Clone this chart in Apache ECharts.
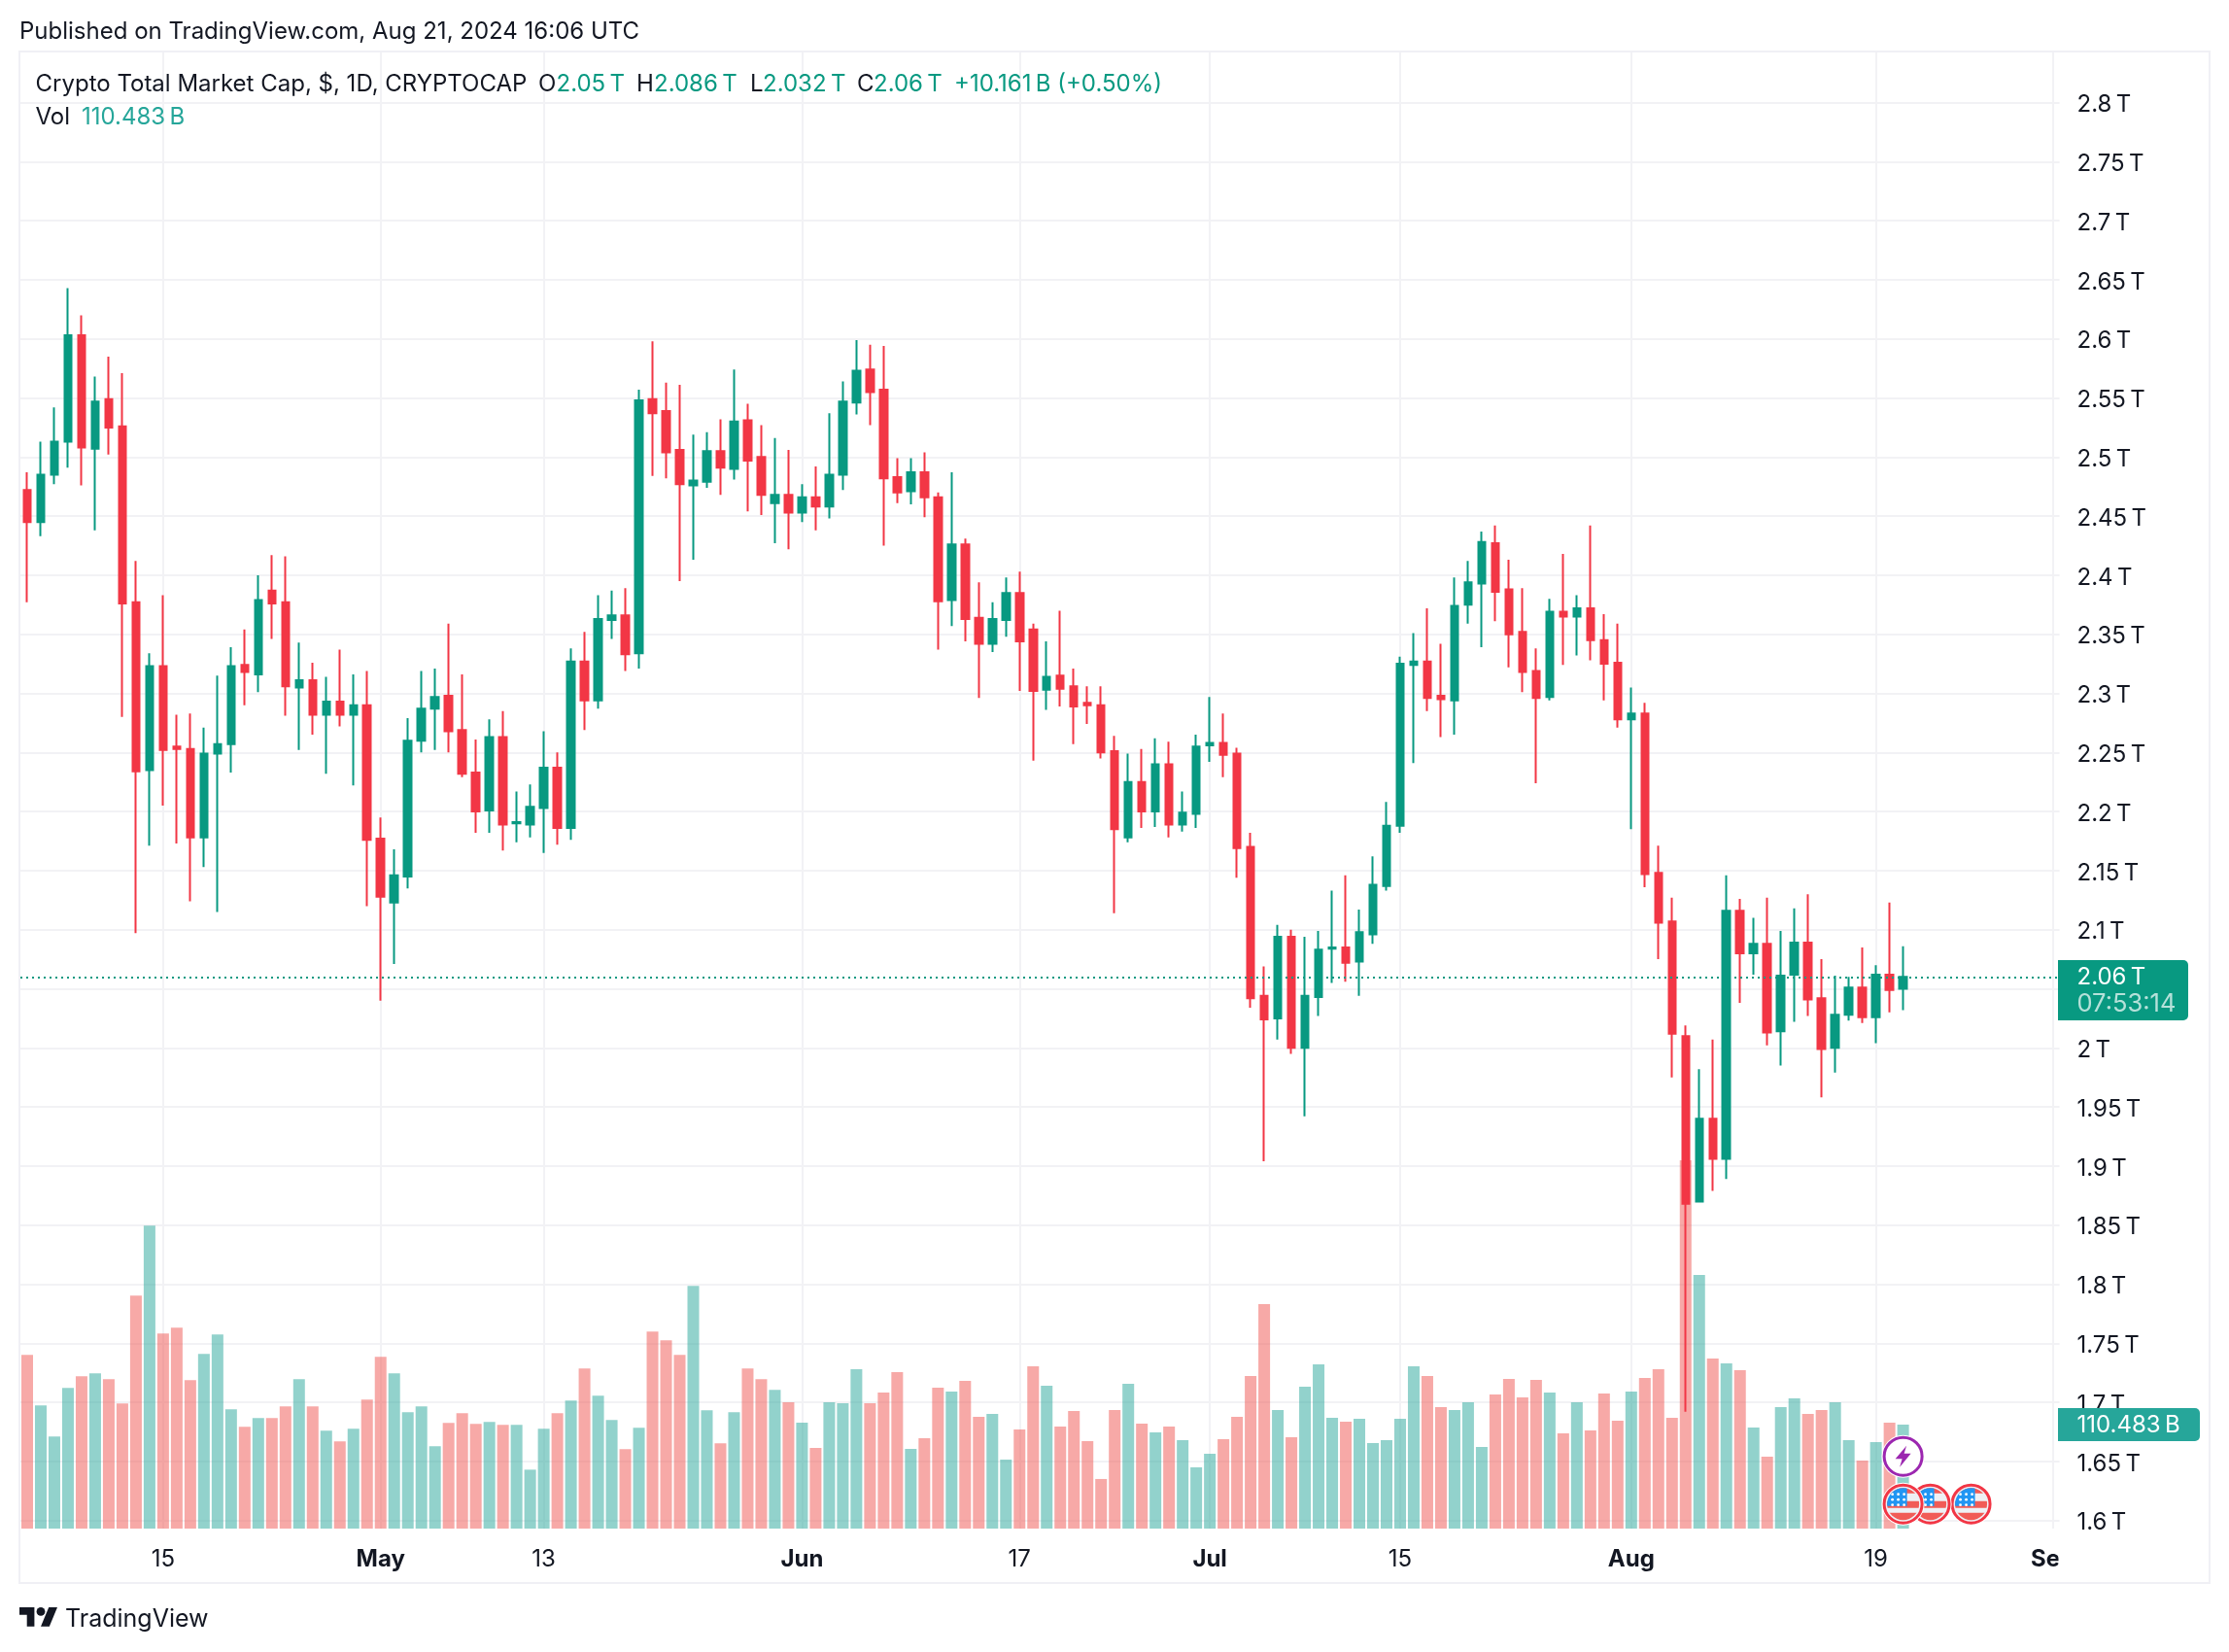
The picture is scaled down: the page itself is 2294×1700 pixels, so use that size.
<!DOCTYPE html>
<html>
<head>
<meta charset="utf-8">
<script src="https://cdn.jsdelivr.net/npm/echarts@6/dist/echarts.min.js"></script>
<style>html,body{margin:0;padding:0;background:#fff}#c{width:2294px;height:1700px}</style>
</head>
<body>
<div id="c"></div>
<script>
// ---- data (trillions USD, daily from 2024-04-05) ----
const firstDay = '2024-04-05';
const slotCount = 150; // Apr 5 .. Sep 1
const opens = [2.472,2.445,2.485,2.513,2.603,2.507,2.549,2.526,2.377,2.235,
2.323,2.255,2.253,2.178,2.249,2.257,2.324,2.316,2.387,2.377,
2.305,2.311,2.282,2.293,2.282,2.290,2.177,2.123,2.145,2.260,
2.287,2.298,2.269,2.233,2.201,2.263,2.190,2.189,2.203,2.237,
2.186,2.327,2.294,2.362,2.366,2.334,2.549,2.539,2.506,2.476,
2.479,2.505,2.490,2.531,2.500,2.461,2.468,2.453,2.466,2.458,
2.485,2.546,2.574,2.557,2.483,2.471,2.487,2.466,2.379,2.426,
2.364,2.342,2.362,2.385,2.354,2.303,2.315,2.306,2.292,2.290,
2.251,2.178,2.225,2.200,2.240,2.189,2.198,2.256,2.258,2.249,
2.170,2.044,2.025,2.094,2.000,2.043,2.084,2.085,2.073,2.096,
2.137,2.188,2.324,2.327,2.298,2.294,2.375,2.393,2.427,2.388,
2.352,2.319,2.297,2.369,2.365,2.372,2.345,2.326,2.278,2.283,
2.148,2.107,2.010,1.870,1.940,1.906,2.116,2.080,2.088,2.014,
2.062,2.089,2.042,2.000,2.028,2.051,2.026,2.062,2.050];
const closes = [2.445,2.485,2.513,2.603,2.508,2.547,2.525,2.376,2.234,2.323,
2.252,2.253,2.178,2.249,2.257,2.323,2.318,2.379,2.376,2.306,
2.311,2.282,2.293,2.282,2.290,2.176,2.128,2.146,2.260,2.287,
2.297,2.268,2.232,2.200,2.263,2.189,2.191,2.204,2.237,2.186,
2.327,2.294,2.363,2.366,2.333,2.548,2.537,2.504,2.477,2.480,
2.505,2.491,2.530,2.497,2.468,2.468,2.453,2.466,2.458,2.485,
2.547,2.573,2.555,2.482,2.470,2.487,2.466,2.378,2.426,2.363,
2.342,2.363,2.385,2.344,2.302,2.314,2.304,2.289,2.290,2.250,
2.185,2.225,2.200,2.240,2.189,2.199,2.255,2.258,2.248,2.169,
2.042,2.024,2.094,2.000,2.044,2.083,2.085,2.072,2.098,2.138,
2.188,2.325,2.327,2.296,2.295,2.374,2.394,2.428,2.386,2.350,
2.318,2.296,2.369,2.365,2.372,2.345,2.325,2.278,2.283,2.147,
2.106,2.012,1.868,1.940,1.906,2.116,2.080,2.088,2.013,2.061,
2.089,2.041,1.999,2.028,2.051,2.026,2.062,2.049,2.060];
const highs = [2.487,2.513,2.542,2.643,2.620,2.568,2.585,2.571,2.412,2.334,
2.383,2.282,2.283,2.271,2.315,2.339,2.354,2.400,2.417,2.416,
2.343,2.326,2.314,2.337,2.316,2.319,2.195,2.168,2.279,2.319,
2.321,2.359,2.316,2.261,2.278,2.285,2.217,2.223,2.268,2.250,
2.338,2.352,2.383,2.387,2.389,2.557,2.598,2.563,2.561,2.519,
2.521,2.532,2.574,2.545,2.527,2.516,2.506,2.477,2.492,2.537,
2.564,2.599,2.595,2.594,2.499,2.499,2.504,2.470,2.487,2.431,
2.394,2.377,2.398,2.403,2.359,2.344,2.370,2.321,2.306,2.306,
2.264,2.249,2.253,2.262,2.259,2.217,2.265,2.297,2.283,2.254,
2.182,2.069,2.104,2.100,2.094,2.099,2.133,2.146,2.117,2.162,
2.208,2.331,2.351,2.372,2.342,2.398,2.412,2.437,2.442,2.413,
2.389,2.338,2.380,2.418,2.383,2.442,2.367,2.359,2.305,2.292,
2.171,2.127,2.019,1.982,2.007,2.146,2.126,2.110,2.127,2.099,
2.118,2.130,2.075,2.061,2.060,2.085,2.070,2.123,2.086];
const lows = [2.377,2.433,2.477,2.491,2.476,2.438,2.502,2.280,2.097,2.171,
2.205,2.173,2.124,2.153,2.115,2.233,2.290,2.301,2.346,2.281,
2.252,2.265,2.232,2.272,2.222,2.120,2.040,2.071,2.135,2.250,
2.252,2.250,2.229,2.182,2.182,2.167,2.174,2.178,2.165,2.172,
2.176,2.269,2.287,2.346,2.319,2.321,2.484,2.482,2.395,2.413,
2.474,2.468,2.481,2.454,2.451,2.427,2.422,2.445,2.438,2.448,
2.472,2.536,2.527,2.425,2.461,2.460,2.449,2.337,2.357,2.344,
2.296,2.335,2.348,2.302,2.243,2.286,2.289,2.257,2.274,2.245,
2.114,2.174,2.186,2.187,2.178,2.183,2.186,2.242,2.229,2.144,
2.034,1.904,2.007,1.995,1.942,2.027,2.055,2.056,2.044,2.088,
2.133,2.182,2.241,2.285,2.263,2.265,2.359,2.339,2.361,2.322,
2.301,2.224,2.294,2.324,2.332,2.328,2.294,2.271,2.185,2.136,
2.075,1.975,1.692,1.869,1.879,1.889,2.038,2.062,2.002,1.985,
2.022,2.027,1.958,1.979,2.023,2.021,2.004,2.030,2.032];
// volume, billions USD
const volumes = [184.5,130.8,97.8,149.4,161.8,164.9,158.7,132.9,247.5,321.8,
207.2,213.4,157.6,185.5,206.2,126.7,108.1,117.4,117.4,129.8,
158.7,129.8,103.9,92.6,106.0,137.0,182.4,164.9,123.6,129.8,
87.4,112.2,122.5,111.2,113.2,110.1,110.1,62.6,106.0,122.5,
136.0,170.0,141.1,115.3,84.3,107.0,209.3,200.0,184.5,257.8,
125.6,90.5,123.6,170.0,158.7,147.3,134.2,112.6,85.7,134.2,
133.2,169.3,133.2,144.6,166.2,84.7,96.0,149.7,145.6,157.0,
118.7,121.8,73.3,105.3,172.4,151.8,108.4,124.9,92.9,52.7,
126.0,153.9,111.5,102.2,108.4,94.0,65.1,79.5,95.0,118.7,
162.1,238.5,126.0,97.1,150.8,174.5,117.7,113.6,116.7,90.9,
94.0,116.7,172.4,162.1,129.1,126.0,134.2,86.7,142.5,159.0,
139.4,158.0,144.6,101.2,134.2,104.3,143.5,114.6,145.6,160.1,
169.3,117.7,391.3,269.5,180.7,175.5,168.3,107.4,76.4,129.1,
138.4,121.8,126.0,134.2,94.0,72.3,91.9,112.6,110.483];
const xTickLabels = {'2024-04-15':'15','2024-05-01':'May','2024-05-13':'13','2024-06-01':'Jun','2024-06-17':'17','2024-07-01':'Jul','2024-07-15':'15','2024-08-01':'Aug','2024-08-19':'19','2024-09-01':'Sep'};
const monthLabels = ['May','Jun','Jul','Aug','Sep'];
const flashDays = [138];
const flagDays = [143,140,138];

const UP='#089981', DOWN='#F23645', INK='#131722', GRID='#f2f2f5', FONT='Inter';
const categories=[];
{const d=new Date(firstDay+'T00:00:00Z');for(let i=0;i<slotCount;i++){categories.push(d.toISOString().slice(0,10));d.setUTCDate(d.getUTCDate()+1);}}
const candles=opens.map((o,i)=>[o,closes[i],lows[i],highs[i]]);
const volData=volumes.map((v,i)=>({value:v,itemStyle:{color:closes[i]>=opens[i]?'rgba(38,166,154,.5)':'rgba(239,83,80,.5)'}}));
const lastClose=closes[closes.length-1];

const gridLeft=21,gridWidth=2098.5;
const showTick=(i,v)=>v in xTickLabels;

function T(text,x,y,fill,size,weight){return {type:'text',x,y,z:100,silent:true,style:{text,fill,fontSize:size||24,fontFamily:FONT,fontWeight:weight||400,verticalAlign:'middle',align:'left'}};}
const graphic=[
 {type:'rect',z:50,silent:true,shape:{x:2118.5,y:1576,width:154,height:50},style:{fill:'#fff'}},
 {type:'rect',z:60,silent:true,shape:{x:20,y:53,width:2254,height:1576},style:{fill:'none',stroke:'#f0f0f5',lineWidth:2}},
 T('Published on TradingView.com, Aug 21, 2024 16:06 UTC',20,33,INK),
 T('Crypto Total Market Cap, $, 1D, CRYPTOCAP',36.5,86.5,INK),
 T('O',554,86.5,INK),T('2.05\u2009T',572.5,86.5,UP),
 T('H',655,86.5,INK),T('2.086\u2009T',673,86.5,UP),
 T('L',772,86.5,INK),T('2.032\u2009T',785,86.5,UP),
 T('C',882,86.5,INK),T('2.06\u2009T',899,86.5,UP),
 T('+10.161\u2009B (+0.50%)',982,86.5,UP),
 T('Vol',36.5,120.5,INK),T('110.483\u2009B',84,120.5,'#26a69a'),
 {type:'rect',z:90,silent:true,shape:{x:2118,y:988,width:134,height:62,r:[0,5,5,0]},style:{fill:UP}},
 T('2.06\u2009T',2137.5,1005.5,'#fff'),
 T('07:53:14',2137.5,1033,'rgba(255,255,255,.7)',25.5),
 {type:'rect',z:90,silent:true,shape:{x:2118,y:1449,width:146,height:34,r:[0,5,5,0]},style:{fill:'#26a69a'}},
 T('110.483\u2009B',2137.5,1467,'#fff'),
 {type:'polygon',z:100,silent:true,shape:{points:[[20,1654],[35.4,1654],[35.4,1673.8],[27.7,1673.8],[27.7,1661.7],[20,1661.7]]},style:{fill:INK}},
 {type:'polygon',z:100,silent:true,shape:{points:[[42,1673.8],[50.2,1654],[59,1654],[50.8,1673.8]]},style:{fill:INK}},
 {type:'circle',z:100,silent:true,shape:{cx:42,cy:1658.4,r:4.4},style:{fill:INK}},
 T('TradingView',67,1666.5,INK,25,400)
];

function flashItem(params,api){
 const p=api.coord([api.value(0),0]);
 return {type:'group',x:p[0],y:p[1]-74.3,children:[
  {type:'circle',shape:{cx:0,cy:0,r:22},style:{fill:'#fff'}},
  {type:'circle',shape:{cx:0,cy:0,r:19.5},style:{fill:'#fff',stroke:'#9c27b0',lineWidth:3}},
  {type:'polygon',shape:{points:[[3.5,-11],[-8,2.5],[-1,2.5],[-3.5,11],[8,-3],[1,-3]]},style:{fill:'#9c27b0'}}
 ]};
}
function flagItem(params,api){
 const p=api.coord([api.value(0),0]);
 const stars=[];
 for(let r=0;r<3;r++)for(let c=0;c<3;c++)stars.push({type:'circle',shape:{cx:-11+c*6,cy:-10+r*5.5,r:1.4},style:{fill:'#fff'}});
 return {type:'group',x:p[0],y:p[1]-25.3,children:[
  {type:'circle',shape:{cx:0,cy:0,r:22},style:{fill:'#fff'}},
  {type:'circle',shape:{cx:0,cy:0,r:19.5},style:{fill:'#eef0f4',stroke:'#F23645',lineWidth:3}},
  {type:'group',clipPath:{type:'circle',shape:{cx:0,cy:0,r:16.5}},children:[
   {type:'rect',shape:{x:-18,y:-18,width:36,height:7},style:{fill:'#f15b56'}},
   {type:'rect',shape:{x:-18,y:-3,width:36,height:7},style:{fill:'#f15b56'}},
   {type:'rect',shape:{x:-18,y:9,width:36,height:10},style:{fill:'#f15b56'}},
   {type:'rect',shape:{x:-18,y:-18,width:22,height:20},style:{fill:'#2196f3'}},
   ...stars
  ]}
 ]};
}

const chart=echarts.init(document.getElementById('c'),null,{renderer:'canvas',width:2294,height:1700});
chart.setOption({
 animation:false,
 backgroundColor:'#fff',
 textStyle:{fontFamily:FONT},
 grid:[
  {left:gridLeft,width:gridWidth,top:53,height:1520,containLabel:false},
  {left:gridLeft,width:gridWidth,top:105.5,height:1459.2,containLabel:false}
 ],
 xAxis:[
  {type:'category',gridIndex:0,data:categories,boundaryGap:true,
   axisLine:{show:false},
   axisTick:{show:false,interval:showTick,alignWithLabel:true},
   splitLine:{show:true,interval:showTick,alignWithLabel:true,lineStyle:{color:GRID,width:2}},
   axisLabel:{interval:showTick,margin:20,fontFamily:FONT,fontSize:24,color:INK,hideOverlap:false,
     formatter:v=>{const t=xTickLabels[v];return monthLabels.includes(t)?'{b|'+t+'}':t;},
     rich:{b:{fontFamily:FONT,fontSize:24,fontWeight:700,color:INK}}}},
  {type:'category',gridIndex:1,data:categories,boundaryGap:true,axisLine:{show:false},axisTick:{show:false},axisLabel:{show:false},splitLine:{show:false}}
 ],
 yAxis:[
  {type:'value',gridIndex:0,min:0,max:1569.4,show:false,splitLine:{show:false}},
  {type:'value',gridIndex:1,position:'right',min:1.6,max:2.8,interval:0.05,
   axisLine:{show:false},axisTick:{show:false},
   splitLine:{show:true,lineStyle:{color:GRID,width:2}},
   axisLabel:{margin:18,fontFamily:FONT,fontSize:24,color:INK,align:'left',showMinLabel:true,showMaxLabel:true,
     formatter:v=>'{p|'+(+v.toFixed(2))+'\u2009T}',
     rich:{p:{fontFamily:FONT,fontSize:24,color:INK,padding:[5,0,0,0]}}}}
 ],
 series:[
  {type:'bar',name:'Vol',xAxisIndex:0,yAxisIndex:0,data:volData,barWidth:12,z:2,silent:true},
  {type:'candlestick',name:'Crypto Total Market Cap',xAxisIndex:1,yAxisIndex:1,data:candles,barWidth:8,z:3,silent:true,
   itemStyle:{color:UP,color0:DOWN,borderColor:UP,borderColor0:DOWN,borderWidth:2},
   markLine:{silent:true,symbol:'none',z:4,label:{show:false},lineStyle:{color:UP,type:[2,4],width:2},data:[{yAxis:lastClose}]}},
  {type:'custom',xAxisIndex:0,yAxisIndex:0,data:flashDays.map(d=>[d,0]),renderItem:flashItem,z:5,silent:true,clip:false},
  {type:'custom',xAxisIndex:0,yAxisIndex:0,data:flagDays.map(d=>[d,0]),renderItem:flagItem,z:5,silent:true,clip:false}
 ],
 graphic:{elements:graphic}
});
</script>
</body>
</html>
